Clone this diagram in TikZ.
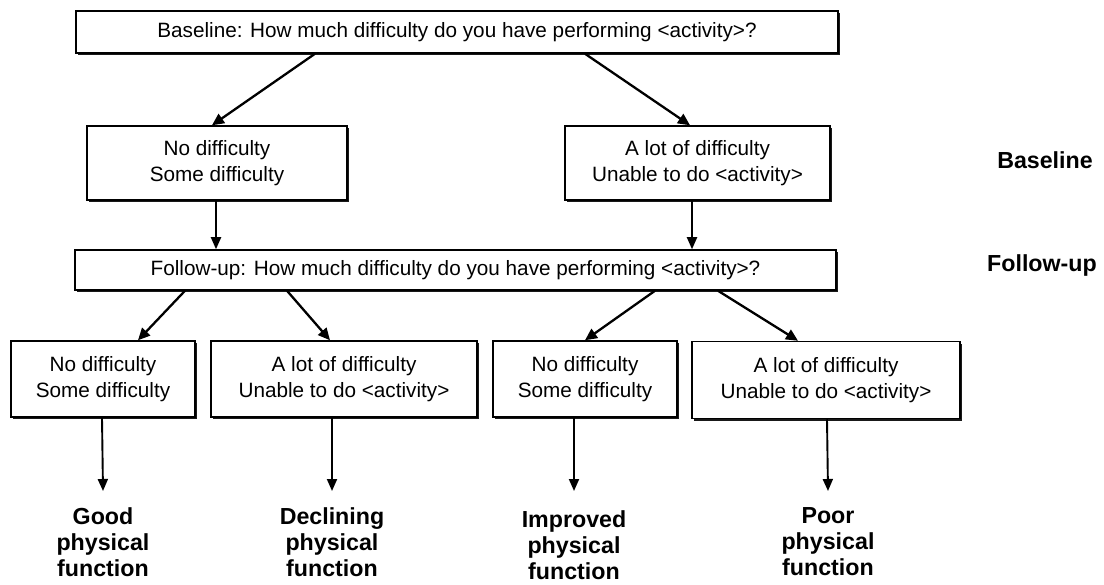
\documentclass[tikz,border=0pt]{standalone}
\usepackage{fontspec}
\setmainfont{Liberation Sans}
\usetikzlibrary{arrows.meta,shadows}
\begin{document}
\begin{tikzpicture}[x=1bp,y=-1bp,
  box/.style={draw=black, line width=1.5bp, fill=white, inner sep=0pt, align=center,
    font=\fontsize{20.8}{26}\selectfont,
    drop shadow={shadow xshift=2bp, shadow yshift=-2bp, fill=black, opacity=0.9}},
  result/.style={inner sep=0pt, align=center, anchor=north, font=\bfseries\fontsize{23.3}{26.5}\selectfont},
  side/.style={inner sep=0pt, font=\bfseries\fontsize{23.3}{26.5}\selectfont},
  arr/.style={-{Triangle[length=12bp,width=11bp]}, line width=2.3bp},
  varr/.style={-{Triangle[length=12bp,width=10bp]}, line width=1.9bp}]
\useasboundingbox (0,0) rectangle (1104,585);

% top question
\node[box, minimum width=762bp, minimum height=42bp] (top) at (457,32)
  {Baseline: How much difficulty do you have performing <activity>?};

% baseline answers
\node[box, minimum width=260bp, minimum height=74bp] (lb) at (217,163)
  {No difficulty\\Some difficulty};
\node[box, minimum width=265bp, minimum height=74bp] (rb) at (697.5,163)
  {A lot of difficulty\\Unable to do <activity>};

% follow-up question
\node[box, minimum width=761bp, minimum height=40bp] (fu) at (455.5,270)
  {Follow-up: How much difficulty do you have performing <activity>?};

% follow-up answers
\node[box, minimum width=184bp, minimum height=76bp] (b1) at (103,379)
  {No difficulty\\Some difficulty};
\node[box, minimum width=266bp, minimum height=76bp] (b2) at (344,379)
  {A lot of difficulty\\Unable to do <activity>};
\node[box, minimum width=184bp, minimum height=76bp] (b3) at (585,379)
  {No difficulty\\Some difficulty};
\node[box, minimum width=268bp, minimum height=77bp] (b4) at (826,380)
  {A lot of difficulty\\Unable to do <activity>};

% outcomes
\node[result] (r1) at (103,507) {Good\\physical\\function};
\node[result] (r2) at (332,507) {Declining\\physical\\function};
\node[result] (r3) at (574,510) {Improved\\physical\\function};
\node[result] (r4) at (828,507) {Poor\\physical\\function};

% side labels
\node[side] (sb) at (1045,160) {Baseline};
\node[side] (sf) at (1042,265) {Follow-up};

% connectors
\draw[arr] ([xshift=-142bp]top.south) -- ([xshift=-5bp]lb.north);
\draw[arr] ([xshift=128bp]top.south) -- ([xshift=-7.5bp]rb.north);

\draw[varr] ([xshift=-1bp]lb.south) -- ([xshift=-1bp]lb.south |- fu.north);
\draw[varr] ([xshift=-5.5bp]rb.south) -- ([xshift=-5.5bp]rb.south |- fu.north);

\draw[arr] ([xshift=-270.5bp]fu.south) -- ([xshift=35bp]b1.north);
\draw[arr] ([xshift=-168.5bp]fu.south) -- ([xshift=-14bp]b2.north);
\draw[arr] ([xshift=199.5bp]fu.south) -- (b3.north);
\draw[arr] ([xshift=262.5bp]fu.south) -- ([xshift=-28bp]b4.north);

\draw[varr] ([xshift=-1bp]b1.south) -- ([yshift=16bp]r1.north);
\draw[varr] ([xshift=-12bp]b2.south) -- ([yshift=16bp]r2.north);
\draw[varr] ([xshift=-11bp]b3.south) -- ([yshift=19bp]r3.north);
\draw[varr] ([xshift=1bp]b4.south) -- ([yshift=16bp]r4.north);
\end{tikzpicture}
\end{document}
